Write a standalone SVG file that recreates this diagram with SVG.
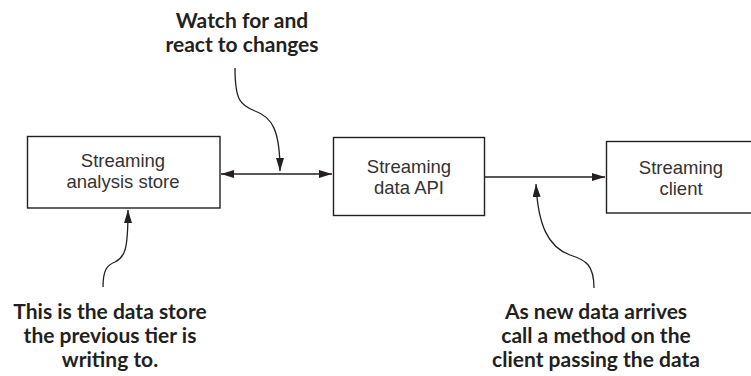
<svg xmlns="http://www.w3.org/2000/svg" width="751" height="376" viewBox="0 0 751 376">
<style>
  .box { fill: #ffffff; stroke: #231f20; stroke-width: 1.4; }
  .btxt { font-family: "Liberation Sans", Arial, sans-serif; font-size: 18.5px; fill: #333333; text-anchor: middle; }
  .note { font-family: Lato, "Open Sans", sans-serif; font-weight: bold; font-size: 21px; fill: #231f20; text-anchor: middle; }
  .conn { fill: none; stroke: #231f20; stroke-width: 1.3; }
</style>
<defs>
  <marker id="ah" markerUnits="userSpaceOnUse" markerWidth="13" markerHeight="8" refX="13" refY="4" orient="auto-start-reverse">
    <path d="M0,0 L13,4 L0,8 z" fill="#231f20"/>
  </marker>
</defs>
<rect width="751" height="376" fill="#ffffff"/>
<g id="connectors">
  <path class="conn" d="M221,174 L332,174" marker-start="url(#ah)" marker-end="url(#ah)"/>
  <path class="conn" d="M485,177 L605,177" marker-end="url(#ah)"/>
  <path class="conn" d="M235,68 C235,100 240,105 255,111 C272,117 280,130 280,171" marker-end="url(#ah)"/>
  <path class="conn" d="M103,287 C103,270 107,265 115,262 C125,257 128,250 128,210" marker-end="url(#ah)"/>
  <path class="conn" d="M594,288 C594,265 586,260 570,255 C548,247 538,225 536,184" marker-end="url(#ah)"/>
</g>
<g id="node-analysis-store">
  <rect class="box" x="27.5" y="136.5" width="192.5" height="71.5"/>
  <text class="btxt" x="123" y="167">Streaming</text>
  <text class="btxt" x="123" y="188">analysis store</text>
</g>
<g id="node-data-api">
  <rect class="box" x="333.5" y="137.5" width="151" height="78"/>
  <text class="btxt" x="409" y="173">Streaming</text>
  <text class="btxt" x="409" y="194">data API</text>
</g>
<g id="node-client">
  <rect class="box" x="606.5" y="141.5" width="150" height="71.5"/>
  <text class="btxt" x="681" y="174">Streaming</text>
  <text class="btxt" x="681" y="195">client</text>
</g>
<g id="note-watch">
  <text class="note" x="242" y="28">Watch for and</text>
  <text class="note" x="242" y="52">react to changes</text>
</g>
<g id="note-store">
  <text class="note" x="110" y="319">This is the data store</text>
  <text class="note" x="110" y="343">the previous tier is</text>
  <text class="note" x="110" y="367">writing to.</text>
</g>
<g id="note-arrives">
  <text class="note" x="596" y="319">As new data arrives</text>
  <text class="note" x="596" y="343">call a method on the</text>
  <text class="note" x="596" y="367">client passing the data</text>
</g>
</svg>
